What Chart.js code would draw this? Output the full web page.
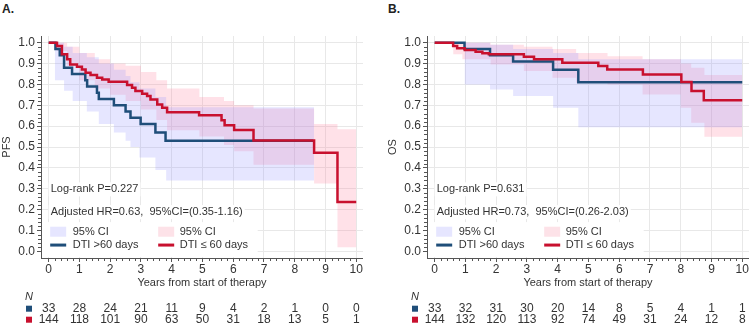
<!DOCTYPE html>
<html>
<head>
<meta charset="utf-8">
<script src="https://cdn.jsdelivr.net/npm/chart.js@4/dist/chart.umd.min.js"></script>
<style>
    body { margin: 0; background: #fff; font-family: 'Liberation Sans', Arial, sans-serif; }
    .panel { position: absolute; top: 0; width: 363px; height: 325px; }
    .tag { position: absolute; top: 2px; font-weight: bold; font-size: 12px; color: #222; }
</style>
</head>
<body>
<div class="tag" style="left:2px">A.</div>
<div class="tag" style="left:388px">B.</div>
<div class="panel" style="left:0"><canvas id="pfs-chart"></canvas></div>
<div class="panel" style="left:386px"><canvas id="os-chart"></canvas></div>

<script>
// tick labels
const xTicks = [0, 1, 2, 3, 4, 5, 6, 7, 8, 9, 10];
const yTicks = [0, 0.1, 0.2, 0.3, 0.4, 0.5, 0.6, 0.7, 0.8, 0.9, 1.0];
const groupLabels = ['DTI >60 days', 'DTI \u2264 60 days'];

// A. PFS — DTI >60 days
const pfsLongT = [0, 0.22, 0.36, 0.5, 0.76, 1.19, 1.25, 1.57, 1.63, 2.12, 2.5, 2.66, 2.99, 3.47, 3.8, 8.6];
const pfsLongS = [1.0, 0.97, 0.94, 0.88, 0.85, 0.82, 0.79, 0.76, 0.73, 0.70, 0.67, 0.64, 0.61, 0.57, 0.53, 0.53];
const pfsLongCiT = [0.2, 0.5, 0.78, 1.24, 1.63, 2.12, 2.5, 2.66, 2.95, 3.47, 3.82, 8.63];
const pfsLongCiUp = [1.0, 0.98, 0.95, 0.93, 0.90, 0.87, 0.84, 0.81, 0.78, 0.74, 0.69, 0.69];
const pfsLongCiLo = [0.82, 0.77, 0.72, 0.67, 0.61, 0.57, 0.53, 0.50, 0.45, 0.39, 0.34, 0.34];

// A. PFS — DTI <= 60 days
const pfsShortT = [0, 0.27, 0.43, 0.6, 0.7, 0.92, 1.08, 1.2, 1.36, 1.57, 1.74, 1.95, 2.55, 2.71, 2.82, 3.04, 3.2, 3.31, 3.53, 3.69, 3.85, 4.89, 5.62, 5.72, 6.03, 6.66, 8.63, 9.39, 10.0];
const pfsShortS = [1.0, 0.984, 0.944, 0.92, 0.896, 0.885, 0.872, 0.856, 0.845, 0.832, 0.824, 0.813, 0.797, 0.784, 0.768, 0.755, 0.744, 0.728, 0.704, 0.688, 0.667, 0.652, 0.628, 0.604, 0.581, 0.531, 0.472, 0.236, 0.236];
const pfsShortCiT = [0.27, 0.6, 1.0, 1.5, 2.0, 2.5, 3.0, 3.5, 3.85, 4.9, 5.7, 6.03, 6.66, 8.63, 9.39, 10.0];
const pfsShortCiUp = [1.0, 0.98, 0.95, 0.92, 0.90, 0.89, 0.86, 0.82, 0.78, 0.74, 0.72, 0.70, 0.685, 0.61, 0.585, 0.585];
const pfsShortCiLo = [0.96, 0.89, 0.82, 0.78, 0.75, 0.72, 0.68, 0.63, 0.58, 0.55, 0.51, 0.48, 0.415, 0.325, 0.02, 0.02];

// B. OS — DTI >60 days
const osLongT = [0, 0.97, 1.8, 2.55, 3.85, 4.67, 10.0];
const osLongS = [1.0, 0.97, 0.94, 0.91, 0.87, 0.81, 0.81];
const osLongCiT = [0.97, 1.8, 2.55, 3.85, 4.67, 10.0];
const osLongCiUp = [1.0, 0.99, 0.97, 0.95, 0.92, 0.92];
const osLongCiLo = [0.80, 0.776, 0.744, 0.688, 0.595, 0.595];

// B. OS — DTI <= 60 days
const osShortT = [0, 0.6, 0.73, 0.98, 1.33, 1.55, 1.76, 2.9, 3.23, 4.15, 5.32, 5.61, 6.77, 8.02, 8.35, 8.75, 10.0];
const osShortS = [1.0, 0.984, 0.973, 0.965, 0.957, 0.949, 0.944, 0.933, 0.92, 0.904, 0.888, 0.872, 0.848, 0.811, 0.768, 0.724, 0.724];
const osShortCiT = [0.6, 0.9, 1.82, 2.9, 3.83, 4.6, 5.62, 6.76, 8.0, 8.34, 8.77, 10.0];
const osShortCiUp = [1.0, 1.0, 0.99, 0.98, 0.97, 0.95, 0.935, 0.92, 0.90, 0.88, 0.845, 0.845];
const osShortCiLo = [0.944, 0.92, 0.896, 0.864, 0.832, 0.808, 0.80, 0.752, 0.688, 0.616, 0.549, 0.549];

// number at risk per year
const pfsRiskLong = [33, 28, 24, 21, 11, 9, 4, 2, 1, 0, 0];
const pfsRiskShort = [144, 118, 101, 90, 63, 50, 31, 18, 13, 5, 1];
const osRiskLong = [33, 32, 31, 30, 20, 14, 8, 5, 4, 1, 1];
const osRiskShort = [144, 132, 120, 113, 92, 74, 49, 31, 24, 12, 8];

const pfsNotes = ['Log-rank P=0.227', 'Adjusted HR=0.63,  95%CI=(0.35-1.16)'];
const osNotes = ['Log-rank P=0.631', 'Adjusted HR=0.73,  95%CI=(0.26-2.03)'];

const NAVY = '#1F4E79';
const RED = '#C8102E';
const LAVENDER_FILL = 'rgba(140,140,255,0.22)';
const PINK_FILL = 'rgba(255,120,150,0.22)';
const TEXT = '#333';
const FONT = "'Liberation Sans', Arial, sans-serif";

function toPoints(t, s) {
    return t.map((v, i) => ({ x: v, y: s[i] }));
}

function kmLine(t, s, color, order) {
    return { data: toPoints(t, s), borderColor: color, borderWidth: 2.5, stepped: true, pointRadius: 0, fill: false, order };
}

function ciBand(t, up, lo, color) {
    return [
        { data: toPoints(t, up), borderWidth: 0, stepped: true, pointRadius: 0, backgroundColor: color, fill: '+1', order: 5 },
        { data: toPoints(t, lo), borderWidth: 0, stepped: true, pointRadius: 0, fill: false, order: 6 },
    ];
}

// minor ticks, white inset boxes, legend and risk table
const kmExtras = {
    id: 'kmExtras',
    beforeDatasetsDraw(chart, args, opts) {
        const { ctx, chartArea: area, scales: { x, y } } = chart;
        const x0 = x.getPixelForValue(0);
        ctx.save();
        ctx.font = `11px ${FONT}`;
        ctx.textBaseline = 'middle';

        // notes with opaque background
        opts.notes.forEach((txt, i) => {
            const yc = y.getPixelForValue(i === 0 ? 0.297 : 0.188);
            const w = ctx.measureText(txt).width;
            ctx.fillStyle = '#fff';
            ctx.fillRect(x0, yc - 7, w + 4, 14);
            ctx.fillStyle = TEXT;
            ctx.fillText(txt, x0 + 2, yc);
        });

        // legend box
        const top = y.getPixelForValue(0.14);
        ctx.fillStyle = '#fff';
        ctx.fillRect(area.left + 1, top, x0 + 208 - area.left, area.bottom - top - 1);

        const r1 = y.getPixelForValue(0.094);
        const r2 = y.getPixelForValue(0.03);
        ctx.fillStyle = '#E6E6FF';
        ctx.fillRect(x0 + 1.5, r1 - 5, 16, 10);
        ctx.fillStyle = '#FDE2E8';
        ctx.fillRect(x0 + 109.5, r1 - 5, 16, 10);
        ctx.lineWidth = 3;
        ctx.strokeStyle = NAVY;
        ctx.beginPath(); ctx.moveTo(x0 + 1.5, r2); ctx.lineTo(x0 + 17.5, r2); ctx.stroke();
        ctx.strokeStyle = RED;
        ctx.beginPath(); ctx.moveTo(x0 + 109.5, r2); ctx.lineTo(x0 + 125.5, r2); ctx.stroke();
        ctx.fillStyle = TEXT;
        ctx.fillText('95% CI', x0 + 24, r1);
        ctx.fillText('95% CI', x0 + 131, r1);
        ctx.fillText(groupLabels[0], x0 + 24, r2);
        ctx.fillText(groupLabels[1], x0 + 131, r2);
        ctx.restore();
    },
    afterDraw(chart, args, opts) {
        const { ctx, chartArea: area, scales: { x, y } } = chart;
        ctx.save();
        ctx.strokeStyle = '#555';
        ctx.lineWidth = 1;
        ctx.beginPath();
        for (let i = 1; i < 50; i++) {
            if (i % 5 === 0) continue;
            const px = Math.round(x.getPixelForValue(i / 5)) + 0.5;
            ctx.moveTo(px, area.bottom);
            ctx.lineTo(px, area.bottom + 3);
        }
        for (let i = 1; i < 50; i++) {
            if (i % 5 === 0) continue;
            const py = Math.round(y.getPixelForValue(i / 50)) + 0.5;
            ctx.moveTo(area.left, py);
            ctx.lineTo(area.left - 3, py);
        }
        ctx.stroke();

        // risk table
        ctx.fillStyle = TEXT;
        ctx.textBaseline = 'middle';
        ctx.font = `italic 11px ${FONT}`;
        ctx.fillText('N', area.left - 16, area.bottom + 38.5);
        const rows = [[opts.risk[0], NAVY, 50.7], [opts.risk[1], RED, 61.7]];
        ctx.font = `12px ${FONT}`;
        ctx.textAlign = 'center';
        rows.forEach(([vals, color, dy]) => {
            const yc = area.bottom + dy;
            ctx.fillStyle = color;
            ctx.fillRect(area.left - 15, yc - 3, 6, 6);
            ctx.fillStyle = TEXT;
            vals.forEach((v, i) => ctx.fillText(String(v), x.getPixelForValue(xTicks[i]), yc));
        });
        ctx.restore();
    },
};

function buildPanel(canvasId, yTitle, datasets, notes, risk) {
    const tickFont = { family: FONT, size: 12 };
    return new Chart(document.getElementById(canvasId), {
        type: 'line',
        data: { datasets },
        options: {
            responsive: true,
            maintainAspectRatio: false,
            animation: false,
            layout: { padding: { top: 36, right: 0, bottom: 35, left: 0 } },
            plugins: {
                legend: { display: false },
                tooltip: { enabled: false },
                kmExtras: { notes, risk },
            },
            scales: {
                x: {
                    type: 'linear',
                    min: -0.25,
                    max: 10.22,
                    afterBuildTicks: (axis) => { axis.ticks = xTicks.map((v) => ({ value: v })); },
                    afterFit: (scale) => { scale.height = 32; },
                    ticks: { font: tickFont, color: TEXT, padding: 0, maxRotation: 0 },
                    grid: { color: '#e8e8e8', tickColor: '#555', tickLength: 4 },
                    border: { color: '#555' },
                    title: { display: true, text: 'Years from start of therapy', color: TEXT, font: { family: FONT, size: 11 }, padding: 0 },
                },
                y: {
                    min: -0.032,
                    max: 1.032,
                    afterBuildTicks: (axis) => { axis.ticks = yTicks.map((v) => ({ value: v })); },
                    afterFit: (scale) => { scale.width = 41; },
                    ticks: { font: tickFont, color: TEXT, padding: 2, callback: (v) => v.toFixed(1) },
                    grid: { color: '#e8e8e8', tickColor: '#555', tickLength: 4 },
                    border: { color: '#555' },
                    title: { display: true, text: yTitle, color: TEXT, font: { family: FONT, size: 11 }, padding: 0 },
                },
            },
        },
        plugins: [kmExtras],
    });
}

document.addEventListener('DOMContentLoaded', () => {
    buildPanel('pfs-chart', 'PFS', [
        kmLine(pfsShortT, pfsShortS, RED, 0),
        kmLine(pfsLongT, pfsLongS, NAVY, 1),
        ...ciBand(pfsLongCiT, pfsLongCiUp, pfsLongCiLo, LAVENDER_FILL),
        ...ciBand(pfsShortCiT, pfsShortCiUp, pfsShortCiLo, PINK_FILL),
    ], pfsNotes, [pfsRiskLong, pfsRiskShort]);

    buildPanel('os-chart', 'OS', [
        kmLine(osShortT, osShortS, RED, 0),
        kmLine(osLongT, osLongS, NAVY, 1),
        ...ciBand(osLongCiT, osLongCiUp, osLongCiLo, LAVENDER_FILL),
        ...ciBand(osShortCiT, osShortCiUp, osShortCiLo, PINK_FILL),
    ], osNotes, [osRiskLong, osRiskShort]);
});
</script>
</body>
</html>
